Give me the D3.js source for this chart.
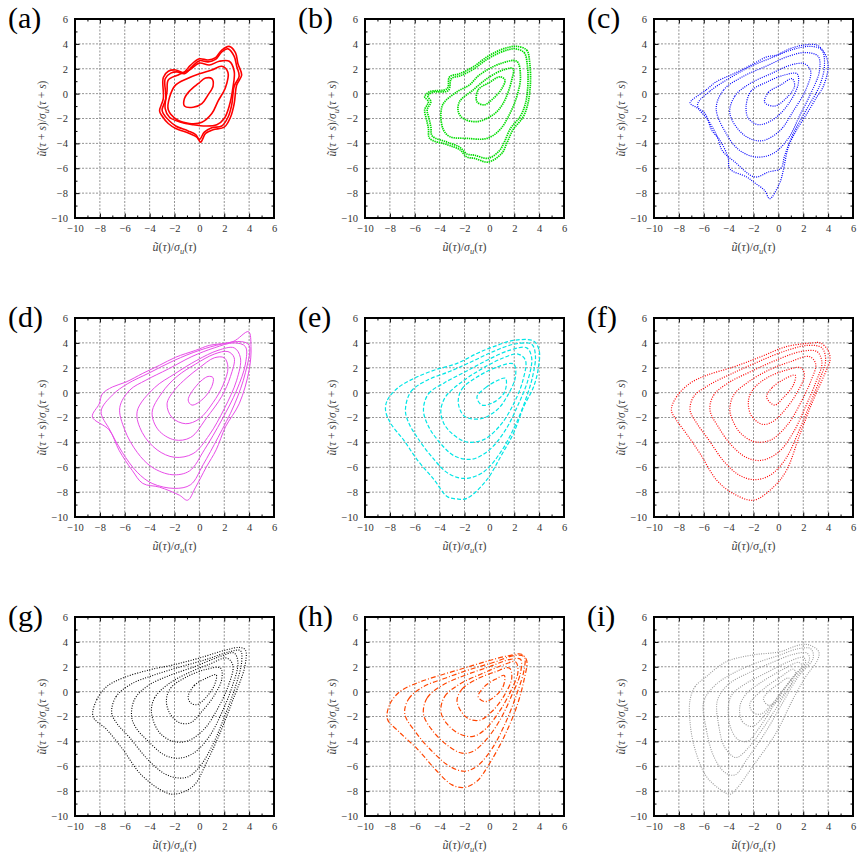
<!DOCTYPE html>
<html>
<head>
<meta charset="utf-8">
<script src="https://cdn.jsdelivr.net/npm/d3@7"></script>
<style>
  body { margin: 0; background: #fff; }
  svg { display: block; }
  svg text { font-family: "Liberation Serif", "Times New Roman", "DejaVu Serif", serif !important; }
</style>
</head>
<body>
<svg id="chart" width="858" height="859"></svg>
<script>
// tick values shared by every panel
const majorTicks = [-10, -8, -6, -4, -2, 0, 2, 4, 6];
const minorTicks = [-9, -7, -5, -3, -1, 1, 3, 5];
const gridValues = [-8, -6, -4, -2, 0, 2, 4];
const panelLetters = ["(a)", "(b)", "(c)", "(d)", "(e)", "(f)", "(g)", "(h)", "(i)"];

// contour lines, [x, y] in data units
const contoursA = [
  [[2.4,3.8],[2.9,3.3],[3.1,2.4],[3.4,1.5],[3.0,0.7],[2.8,-0.8],[2.5,-1.9],[2.0,-2.7],[1.1,-2.9],[0.5,-3.2],[0.1,-3.9],[-0.2,-3.5],[-0.8,-3.2],[-1.9,-2.8],[-2.5,-2.4],[-3.0,-1.8],[-3.2,-1.4],[-2.9,-0.4],[-2.9,1.3],[-2.5,1.8],[-1.9,1.9],[-1.3,1.7],[-0.7,2.3],[0.0,2.8],[0.7,2.7],[1.3,2.9],[1.8,3.5]],
  [[2.3,3.6],[2.8,3.0],[3.0,2.2],[3.2,1.4],[2.8,0.6],[2.6,-0.9],[2.3,-1.9],[1.8,-2.6],[1.0,-2.75],[0.4,-3.1],[0.0,-3.7],[-0.3,-3.3],[-0.9,-3.0],[-1.9,-2.6],[-2.4,-2.2],[-2.9,-1.6],[-3.0,-1.3],[-2.7,-0.4],[-2.75,1.2],[-2.3,1.65],[-1.8,1.75],[-1.2,1.6],[-0.6,2.15],[0.0,2.65],[0.7,2.55],[1.3,2.75],[1.8,3.35]],
  [[2.4,2.6],[2.8,1.8],[2.7,0.5],[2.4,-1.0],[2.0,-2.0],[1.4,-2.5],[0.5,-2.6],[-0.5,-2.5],[-1.5,-2.3],[-2.4,-1.9],[-2.75,-1.2],[-2.6,0.2],[-2.5,1.1],[-1.7,1.5],[-0.8,1.9],[0.0,2.45],[0.8,2.3],[1.6,2.6]],
  [[-2.5,-1.3],[-2.4,-0.3],[-1.9,0.7],[-1.0,1.2],[0.0,1.6],[1.0,1.9],[1.8,2.2],[2.3,1.7],[2.1,0.5],[1.5,-0.6],[1.0,-1.6],[0.2,-2.3],[-0.8,-2.4],[-1.8,-2.1]],
  [[-1.2,-1.0],[-0.5,-1.1],[0.2,-0.8],[0.7,-0.1],[1.1,0.6],[1.0,1.2],[0.5,1.25],[-0.1,0.8],[-0.8,0.2],[-1.2,-0.4]]
];

const contoursB = [
  [[2.2,3.8],[3.0,3.5],[3.25,2.4],[3.3,0.8],[3.1,-0.8],[2.7,-1.9],[1.9,-2.9],[1.4,-4.0],[1.0,-4.8],[-0.1,-5.5],[-1.2,-5.2],[-1.8,-5.1],[-2.4,-4.5],[-3.4,-4.1],[-4.8,-3.6],[-4.9,-2.8],[-5.05,-2.1],[-5.2,-1.3],[-4.9,-0.65],[-5.2,-0.25],[-4.8,0.15],[-3.4,0.4],[-3.2,1.35],[-2.4,1.6],[-1.3,2.15],[-0.2,2.95],[0.85,3.5],[1.65,3.75]],
  [[2.1,3.6],[2.8,3.3],[3.05,2.3],[3.1,0.8],[2.9,-0.8],[2.5,-1.8],[1.7,-2.8],[1.2,-3.9],[0.8,-4.6],[-0.1,-5.2],[-1.2,-4.95],[-1.8,-4.85],[-2.4,-4.3],[-3.4,-3.9],[-4.6,-3.4],[-4.7,-2.7],[-4.85,-2.0],[-5.0,-1.3],[-4.7,-0.65],[-4.95,-0.2],[-4.6,0.1],[-3.3,0.25],[-3.05,1.2],[-2.3,1.45],[-1.3,1.95],[-0.2,2.75],[0.85,3.3],[1.6,3.55]],
  [[-3.9,-1.7],[-3.7,-0.8],[-2.6,0.15],[-1.6,0.7],[-0.8,1.5],[0.85,2.4],[2.2,2.6],[2.5,1.35],[2.2,-0.25],[1.65,-1.6],[0.85,-2.9],[-0.2,-3.6],[-1.8,-3.6],[-3.2,-3.45],[-3.7,-2.9]],
  [[-2.5,-1.45],[-2.4,-0.65],[-1.3,0.3],[-0.2,1.2],[1.1,1.9],[1.9,2.0],[1.8,1.1],[1.1,-0.8],[0.3,-1.7],[-1.0,-2.25],[-2.1,-2.0]],
  [[-1.0,-0.65],[-0.9,0.3],[0.0,0.9],[0.85,1.35],[1.25,1.1],[1.0,0.4],[0.3,-0.4],[-0.4,-0.9]]
];

const contoursC = [
  [[-7.1,-0.75],[-5.8,0.3],[-5.0,0.95],[-3.6,1.6],[-2.0,2.4],[-0.95,2.95],[-0.15,3.1],[0.9,3.6],[2.0,3.9],[3.1,3.9],[3.75,3.2],[4.0,2.15],[3.6,0.55],[3.1,-0.25],[2.3,-1.6],[1.45,-2.95],[0.8,-4.3],[0.4,-6.15],[0.1,-7.2],[-0.7,-8.45],[-1.1,-7.8],[-2.0,-7.1],[-2.55,-6.7],[-3.9,-6.05],[-4.05,-5.1],[-4.7,-3.75],[-5.35,-2.95],[-5.9,-1.6],[-6.6,-1.1]],
  [[-6.5,-0.9],[-5.5,0.2],[-4.0,1.2],[-2.2,2.2],[-0.5,2.9],[1.0,3.5],[2.6,3.8],[3.5,3.5],[3.7,2.2],[3.3,0.6],[2.3,-1.2],[1.2,-3.2],[0.5,-5.0],[0.2,-6.0],[-0.8,-6.3],[-1.9,-6.7],[-3.5,-5.5],[-4.5,-4.6],[-4.9,-3.5],[-5.6,-2.2]],
  [[-5.0,-1.2],[-4.4,0.3],[-2.8,1.4],[-1.0,2.2],[0.8,3.0],[2.2,3.3],[3.2,3.0],[3.3,1.8],[2.6,0.0],[1.7,-1.8],[0.8,-3.6],[-0.4,-4.8],[-1.8,-5.1],[-3.2,-4.5],[-4.2,-3.2]],
  [[-3.9,-1.6],[-3.5,-0.2],[-2.3,0.8],[-0.6,1.6],[1.0,2.3],[2.1,2.4],[2.6,1.8],[2.2,0.3],[1.2,-1.4],[0.1,-3.0],[-1.4,-3.8],[-2.8,-3.3]],
  [[-2.6,-1.1],[-2.2,0.2],[-1.0,0.9],[0.5,1.5],[1.5,1.6],[1.6,0.8],[0.9,-0.7],[-0.3,-2.0],[-1.6,-2.5],[-2.4,-2.0]],
  [[-1.1,-0.7],[-0.8,0.1],[0.2,0.7],[1.1,1.2],[1.3,0.6],[0.6,-0.4],[-0.3,-1.0]]
];

const contoursD = [
  [[3.95,4.9],[4.15,3.7],[4.0,1.8],[3.2,-0.9],[2.1,-2.75],[1.35,-4.6],[0.55,-6.0],[-0.3,-7.6],[-0.95,-8.65],[-1.6,-8.25],[-3.2,-7.6],[-4.55,-7.3],[-5.4,-6.25],[-6.45,-4.65],[-7.25,-3.0],[-8.6,-1.95],[-8.05,-0.9],[-7.8,-0.1],[-7.0,0.45],[-5.9,0.85],[-4.55,1.55],[-3.2,2.2],[-1.9,2.85],[-0.3,3.4],[0.8,3.8],[2.7,4.1]],
  [[-7.9,-1.5],[-7.2,-3.0],[-6.2,-4.8],[-5.0,-6.4],[-3.8,-7.3],[-2.0,-7.7],[-0.7,-7.4],[0.3,-5.8],[1.5,-3.6],[2.8,-1.0],[3.7,1.6],[4.0,3.8],[3.4,4.1],[1.8,3.9],[0.0,3.4],[-2.0,2.6],[-4.0,1.6],[-5.8,0.7],[-7.0,-0.2]],
  [[-6.4,-1.2],[-6.0,-3.0],[-5.0,-4.8],[-3.8,-6.0],[-2.2,-6.6],[-0.8,-6.3],[0.4,-4.6],[1.8,-2.2],[3.0,0.2],[3.7,2.3],[3.7,3.7],[2.8,4.0],[1.2,3.6],[-0.6,2.9],[-2.5,1.9],[-4.3,1.0],[-5.6,0.2]],
  [[-5.0,-1.5],[-4.6,-3.2],[-3.4,-4.6],[-2.0,-5.2],[-0.5,-4.9],[0.8,-3.4],[2.0,-1.3],[3.0,1.0],[3.3,2.8],[2.8,3.6],[1.5,3.4],[-0.2,2.6],[-2.0,1.5],[-3.6,0.4]],
  [[-3.8,-1.6],[-3.3,-3.0],[-2.0,-3.8],[-0.7,-3.6],[0.6,-2.0],[1.8,-0.3],[2.5,1.3],[2.8,2.8],[2.3,3.3],[1.2,3.1],[-0.3,2.3],[-1.8,1.3],[-3.0,0.0]],
  [[-2.6,-0.9],[-2.2,-2.0],[-1.1,-2.5],[0.0,-2.1],[1.1,-0.8],[1.9,0.6],[2.3,2.0],[2.0,2.8],[1.2,2.8],[0.0,2.0],[-1.0,1.2],[-2.0,0.2]],
  [[-0.9,-0.6],[-0.6,-1.0],[0.3,-0.5],[1.0,0.5],[1.1,1.2],[0.7,1.3],[-0.2,0.6]]
];

const contoursE = [
  [[-8.35,-1.4],[-8.2,-0.6],[-7.4,0.35],[-6.05,1.15],[-4.45,1.8],[-2.6,2.35],[-1.0,3.15],[0.35,3.7],[1.95,4.2],[3.55,4.15],[4.0,3.4],[3.95,2.05],[3.55,0.45],[2.75,-1.15],[1.95,-3.25],[0.9,-5.15],[-0.2,-7.0],[-1.8,-8.5],[-2.6,-8.55],[-3.4,-8.35],[-4.45,-7.0],[-5.8,-5.4],[-6.9,-3.8],[-7.95,-2.45]],
  [[-6.75,-1.4],[-6.3,0.1],[-5.0,1.0],[-3.2,1.7],[-1.4,2.5],[0.3,3.3],[2.0,3.9],[3.4,3.9],[3.7,3.0],[3.5,1.4],[2.9,-0.6],[2.0,-2.8],[0.9,-4.8],[-0.5,-6.4],[-2.0,-6.9],[-3.3,-6.5],[-4.6,-5.2],[-5.8,-3.6],[-6.5,-2.4]],
  [[-5.3,-1.4],[-4.9,-0.1],[-3.6,0.8],[-1.9,1.7],[-0.2,2.6],[1.6,3.4],[3.0,3.6],[3.4,2.8],[3.1,1.0],[2.3,-1.0],[1.3,-3.0],[0.0,-4.6],[-1.4,-5.35],[-2.8,-5.1],[-4.0,-4.0],[-4.9,-2.7]],
  [[-3.9,-1.4],[-3.5,-0.3],[-2.3,0.8],[-0.8,1.8],[0.9,2.7],[2.3,3.1],[2.9,2.6],[2.7,1.0],[2.0,-0.8],[0.9,-2.6],[-0.5,-3.8],[-1.9,-3.95],[-3.1,-3.2],[-3.7,-2.4]],
  [[-2.5,-0.8],[-2.2,0.3],[-1.0,1.25],[0.6,2.05],[1.95,2.3],[2.1,1.3],[1.4,-0.35],[0.6,-1.4],[-0.7,-2.1],[-2.0,-1.9]],
  [[-1.0,-0.35],[-0.3,0.4],[0.6,0.95],[1.3,1.15],[1.2,0.0],[0.2,-0.85],[-0.6,-1.0]]
];

const contoursF = [
  [[-8.6,-1.4],[-8.2,-0.35],[-7.1,0.75],[-5.75,1.4],[-3.65,2.05],[-1.5,2.85],[0.65,3.7],[2.8,4.0],[3.35,4.0],[4.0,3.4],[4.15,2.6],[3.75,1.55],[2.8,-0.6],[1.75,-3.3],[0.65,-6.25],[-0.4,-7.6],[-2.0,-8.65],[-3.65,-8.1],[-4.95,-7.05],[-6.3,-4.9],[-7.4,-3.3],[-8.2,-2.2]],
  [[-7.1,-1.4],[-6.8,-0.3],[-5.6,0.6],[-3.8,1.5],[-1.8,2.4],[0.4,3.3],[2.4,3.8],[3.5,3.6],[3.8,2.6],[3.3,1.0],[2.5,-1.0],[1.6,-3.2],[0.6,-5.3],[-0.6,-6.6],[-1.9,-7.0],[-3.2,-6.6],[-4.4,-5.5],[-5.6,-3.8],[-6.6,-2.4]],
  [[-5.5,-1.4],[-5.2,-0.2],[-4.0,0.8],[-2.2,1.7],[-0.2,2.6],[1.8,3.3],[3.1,3.3],[3.5,2.4],[3.0,0.8],[2.2,-1.1],[1.2,-3.2],[0.0,-4.8],[-1.4,-5.45],[-2.6,-5.2],[-3.8,-4.2],[-4.8,-2.8]],
  [[-3.9,-1.4],[-3.6,-0.2],[-2.5,0.8],[-0.8,1.8],[1.0,2.5],[2.5,2.9],[3.0,2.3],[2.6,0.9],[1.8,-0.8],[0.8,-2.5],[-0.6,-3.8],[-1.9,-3.95],[-3.0,-3.3],[-3.6,-2.4]],
  [[-2.4,-0.6],[-2.0,0.3],[-0.9,1.2],[0.6,1.8],[1.8,2.0],[2.1,1.4],[1.5,0.0],[0.6,-1.3],[-0.4,-2.3],[-1.3,-2.55],[-2.2,-1.8]],
  [[-0.95,-0.35],[-0.5,0.4],[0.5,1.1],[1.35,1.4],[1.2,0.6],[0.4,-0.4],[-0.3,-1.0]]
];

const contoursG = [
  [[-8.55,-2.0],[-8.25,-0.65],[-7.45,0.4],[-6.15,1.1],[-4.0,1.75],[-2.1,2.15],[0.0,2.7],[2.15,3.35],[3.25,3.55],[3.7,3.35],[3.65,2.0],[2.7,-0.65],[1.65,-3.35],[0.55,-5.75],[-0.5,-7.6],[-2.1,-8.25],[-3.2,-7.85],[-4.8,-6.55],[-6.15,-4.65],[-7.45,-3.05]],
  [[-7.05,-1.7],[-6.7,-0.4],[-5.5,0.6],[-3.6,1.35],[-1.5,2.0],[0.6,2.6],[2.4,3.2],[3.3,3.3],[3.4,2.4],[2.9,0.4],[2.1,-1.8],[1.2,-4.0],[0.2,-5.8],[-0.8,-6.8],[-1.6,-6.95],[-2.8,-6.6],[-4.2,-5.4],[-5.6,-3.7],[-6.6,-2.6]],
  [[-5.45,-2.0],[-5.2,-0.6],[-4.1,0.5],[-2.4,1.3],[-0.4,2.0],[1.6,2.8],[2.8,3.1],[3.1,2.3],[2.6,0.3],[1.8,-1.7],[0.8,-3.6],[-0.4,-4.9],[-1.6,-5.35],[-2.8,-5.1],[-4.2,-3.9],[-5.1,-2.9]],
  [[-3.85,-1.7],[-3.6,-0.5],[-2.5,0.6],[-0.9,1.5],[0.8,2.2],[2.2,2.7],[2.7,2.1],[2.3,0.4],[1.4,-1.5],[0.4,-3.0],[-0.9,-3.95],[-2.1,-4.0],[-3.2,-3.3]],
  [[-2.65,-0.65],[-2.3,0.3],[-1.0,1.2],[0.6,1.8],[1.7,1.9],[1.8,1.0],[1.2,-0.3],[0.2,-1.6],[-0.7,-2.5],[-1.6,-2.5],[-2.4,-1.7]],
  [[-0.9,-0.4],[-0.4,0.5],[0.6,1.1],[1.35,1.35],[1.2,0.5],[0.5,-0.5],[-0.2,-1.05],[-0.7,-0.9]]
];

const contoursH = [
  [[-8.2,-2.2],[-8.0,-1.0],[-7.2,0.0],[-5.8,0.7],[-4.0,1.3],[-2.0,1.9],[0.0,2.5],[1.6,2.9],[2.6,3.0],[3.0,2.5],[2.8,1.0],[2.2,-1.2],[1.2,-3.6],[0.0,-5.8],[-1.0,-7.2],[-2.0,-7.7],[-3.0,-7.5],[-4.3,-6.3],[-5.8,-4.6],[-7.3,-3.2]],
  [[-6.8,-1.8],[-6.5,-0.6],[-5.3,0.4],[-3.5,1.1],[-1.5,1.8],[0.5,2.4],[2.0,2.9],[2.8,2.8],[2.8,1.8],[2.2,-0.2],[1.3,-2.5],[0.2,-4.6],[-1.0,-6.0],[-2.0,-6.4],[-3.2,-6.0],[-4.6,-4.8],[-5.9,-3.3]],
  [[-5.3,-1.8],[-5.0,-0.5],[-3.8,0.5],[-2.0,1.3],[0.0,2.0],[1.7,2.6],[2.5,2.6],[2.5,1.5],[1.8,-0.3],[0.9,-2.2],[-0.2,-3.8],[-1.3,-4.8],[-2.2,-4.95],[-3.4,-4.3],[-4.6,-3.1]],
  [[-3.9,-1.6],[-3.6,-0.4],[-2.4,0.6],[-0.7,1.4],[1.0,2.1],[2.1,2.4],[2.3,1.6],[1.7,0.0],[0.8,-1.6],[-0.3,-3.0],[-1.3,-3.6],[-2.4,-3.4],[-3.4,-2.6]],
  [[-2.6,-0.8],[-2.2,0.2],[-1.0,1.0],[0.5,1.6],[1.6,1.9],[1.8,1.1],[1.2,-0.3],[0.2,-1.6],[-0.8,-2.3],[-1.8,-2.1]],
  [[-0.9,-0.4],[-0.4,0.4],[0.5,1.0],[1.2,1.3],[1.1,0.4],[0.3,-0.5],[-0.4,-0.8]]
];

const contoursI = [
  [[-7.1,-0.65],[-6.7,0.4],[-5.8,1.2],[-4.2,2.4],[-2.05,2.95],[0.1,3.2],[1.7,3.75],[2.5,3.75],[3.25,3.2],[3.15,2.55],[2.2,1.2],[1.15,-0.65],[-0.2,-3.35],[-2.05,-6.0],[-3.4,-7.85],[-3.9,-8.25],[-4.7,-7.85],[-5.8,-6.8],[-6.7,-4.65],[-7.1,-2.5]],
  [[-6.0,-0.8],[-5.8,-3.0],[-5.2,-5.2],[-4.3,-6.5],[-3.5,-6.7],[-2.5,-5.4],[-1.0,-3.2],[0.4,-0.8],[1.6,1.2],[2.8,2.7],[2.6,3.45],[1.6,3.45],[0.0,2.9],[-1.8,2.3],[-3.6,1.5],[-5.1,0.5]],
  [[-4.9,-0.7],[-4.8,-2.7],[-4.3,-4.5],[-3.4,-5.3],[-2.4,-4.5],[-1.2,-2.9],[0.1,-0.9],[1.3,1.0],[2.5,2.6],[2.3,3.1],[1.2,3.0],[-0.6,2.3],[-2.4,1.5],[-4.0,0.6]],
  [[-4.0,-1.0],[-3.9,-2.7],[-3.3,-3.8],[-2.5,-4.0],[-1.6,-3.0],[-0.3,-1.0],[1.0,0.9],[2.2,2.4],[2.0,2.75],[0.8,2.4],[-1.0,1.5],[-2.7,0.6],[-3.7,-0.2]],
  [[-3.1,-1.2],[-2.9,-2.4],[-2.1,-2.8],[-1.2,-2.0],[0.0,-0.4],[1.1,1.1],[1.9,2.1],[1.6,2.35],[0.4,1.8],[-1.3,0.8],[-2.6,-0.2]],
  [[-2.3,-1.0],[-2.0,-1.7],[-1.4,-1.8],[-0.6,-1.1],[0.5,0.3],[1.4,1.5],[1.2,1.8],[0.2,1.2],[-1.2,0.2]],
  [[-1.2,-0.6],[-0.8,-1.1],[-0.1,-0.8],[0.6,0.0],[1.1,0.8],[0.8,1.1],[0.0,0.6],[-0.8,0.0]]
];

const panelContours = [contoursA, contoursB, contoursC, contoursD, contoursE, contoursF, contoursG, contoursH, contoursI];

// line styles per panel
const panelStyles = [
  { color: "#ff0000", dash: null, width: 1.6 },
  { color: "#00dd00", dash: "1.4,0.8", width: 1.7 },
  { color: "#0000ff", dash: "1,1.2", width: 1.2 },
  { color: "#e84ce8", dash: null, width: 1 },
  { color: "#00e6e6", dash: "4,2", width: 1.2 },
  { color: "#ff0000", dash: "1,1.4", width: 1.2 },
  { color: "#000000", dash: "1,1.5", width: 1.1 },
  { color: "#ff4500", dash: "5,2,1,2", width: 1.2 },
  { color: "#999999", dash: "1,1.3", width: 1.1 }
];

const colLefts = [75, 365, 654];
const rowTops = [19, 318, 617];
const size = 199;
const serif = '"Liberation Serif", "Times New Roman", "DejaVu Serif", serif';

const svg = d3.select('#chart');
svg.append('rect').attr('width', 858).attr('height', 859).attr('fill', '#fff');

const line = d3.line().curve(d3.curveCatmullRomClosed.alpha(0.5));

panelContours.forEach((contours, i) => {
  const left = colLefts[i % 3];
  const top = rowTops[Math.floor(i / 3)];
  const style = panelStyles[i];

  const x = d3.scaleLinear().domain([-10, 6]).range([left, left + size]);
  const y = d3.scaleLinear().domain([-10, 6]).range([top + size, top]);

  const g = svg.append('g').style('font-family', serif);

  // grid
  g.selectAll('.gx').data(gridValues).enter().append('line')
    .attr('x1', d => x(d)).attr('x2', d => x(d))
    .attr('y1', top).attr('y2', top + size)
    .attr('stroke', '#777').attr('stroke-width', 0.8)
    .attr('stroke-dasharray', '2,1.5');
  g.selectAll('.gy').data(gridValues).enter().append('line')
    .attr('y1', d => y(d)).attr('y2', d => y(d))
    .attr('x1', left).attr('x2', left + size)
    .attr('stroke', '#777').attr('stroke-width', 0.8)
    .attr('stroke-dasharray', '2,1.5');

  // contours
  const clipId = 'clip' + i;
  g.append('clipPath').attr('id', clipId)
    .append('rect').attr('x', left).attr('y', top).attr('width', size).attr('height', size);

  g.append('g').attr('clip-path', `url(#${clipId})`)
    .selectAll('path').data(contours).enter().append('path')
    .attr('d', pts => line(pts.map(p => [x(p[0]), y(p[1])])))
    .attr('fill', 'none')
    .attr('stroke', style.color)
    .attr('stroke-width', style.width)
    .attr('stroke-dasharray', style.dash)
    .attr('stroke-linejoin', 'round');

  // inward ticks on all four sides
  const addTicks = (axis, transform, len, vals) => {
    const a = g.append('g').attr('transform', transform)
      .call(axis.tickValues(vals).tickSize(-len).tickFormat(''));
    a.select('.domain').remove();
    a.selectAll('line').attr('stroke', '#000').attr('stroke-width', 1);
  };
  [[minorTicks, 2.5], [majorTicks, 4.5]].forEach(([vals, len]) => {
    addTicks(d3.axisBottom(x), `translate(0,${top + size})`, len, vals);
    addTicks(d3.axisTop(x), `translate(0,${top})`, len, vals);
    addTicks(d3.axisLeft(y), `translate(${left},0)`, len, vals);
    addTicks(d3.axisRight(y), `translate(${left + size},0)`, len, vals);
  });

  // tick labels
  const xl = g.append('g').attr('transform', `translate(0,${top + size})`)
    .call(d3.axisBottom(x).tickValues(majorTicks).tickSize(0).tickPadding(7));
  const yl = g.append('g').attr('transform', `translate(${left},0)`)
    .call(d3.axisLeft(y).tickValues(majorTicks).tickSize(0).tickPadding(7));
  [xl, yl].forEach(a => {
    a.attr('font-family', null);
    a.select('.domain').remove();
    a.selectAll('text')
      .style('font-family', serif)
      .attr('font-size', 10.5).attr('fill', '#333');
  });

  // frame
  g.append('rect').attr('x', left).attr('y', top).attr('width', size).attr('height', size)
    .attr('fill', 'none').attr('stroke', '#000').attr('stroke-width', 2);

  // axis labels
  const xt = g.append('text')
    .attr('x', left + size / 2).attr('y', top + size + 33)
    .attr('text-anchor', 'middle').attr('font-size', 12).attr('fill', '#444');
  xt.append('tspan').attr('font-style', 'italic').text('ũ');
  xt.append('tspan').text('(');
  xt.append('tspan').attr('font-style', 'italic').text('τ');
  xt.append('tspan').text(')/');
  xt.append('tspan').attr('font-style', 'italic').text('σ');
  xt.append('tspan').attr('font-style', 'italic').attr('font-size', 8.5).attr('dy', 3).text('u');
  xt.append('tspan').attr('dy', -3).text('(');
  xt.append('tspan').attr('font-style', 'italic').text('τ');
  xt.append('tspan').text(')');

  const yt = g.append('text')
    .attr('transform', `translate(${left - 29},${top + size / 2}) rotate(-90)`)
    .attr('text-anchor', 'middle').attr('font-size', 11.5).attr('fill', '#444');
  yt.append('tspan').attr('font-style', 'italic').text('ũ');
  yt.append('tspan').text('(');
  yt.append('tspan').attr('font-style', 'italic').text('τ');
  yt.append('tspan').text(' + ');
  yt.append('tspan').attr('font-style', 'italic').text('s');
  yt.append('tspan').text(')/');
  yt.append('tspan').attr('font-style', 'italic').text('σ');
  yt.append('tspan').attr('font-style', 'italic').attr('font-size', 8.5).attr('dy', 3).text('u');
  yt.append('tspan').attr('dy', -3).text('(');
  yt.append('tspan').attr('font-style', 'italic').text('τ');
  yt.append('tspan').text(' + ');
  yt.append('tspan').attr('font-style', 'italic').text('s');
  yt.append('tspan').text(')');

  // panel letter
  g.append('text')
    .attr('x', left - 67).attr('y', top + 9)
    .attr('font-size', 30).attr('fill', '#000')
    .text(panelLetters[i]);
});
</script>
</body>
</html>
